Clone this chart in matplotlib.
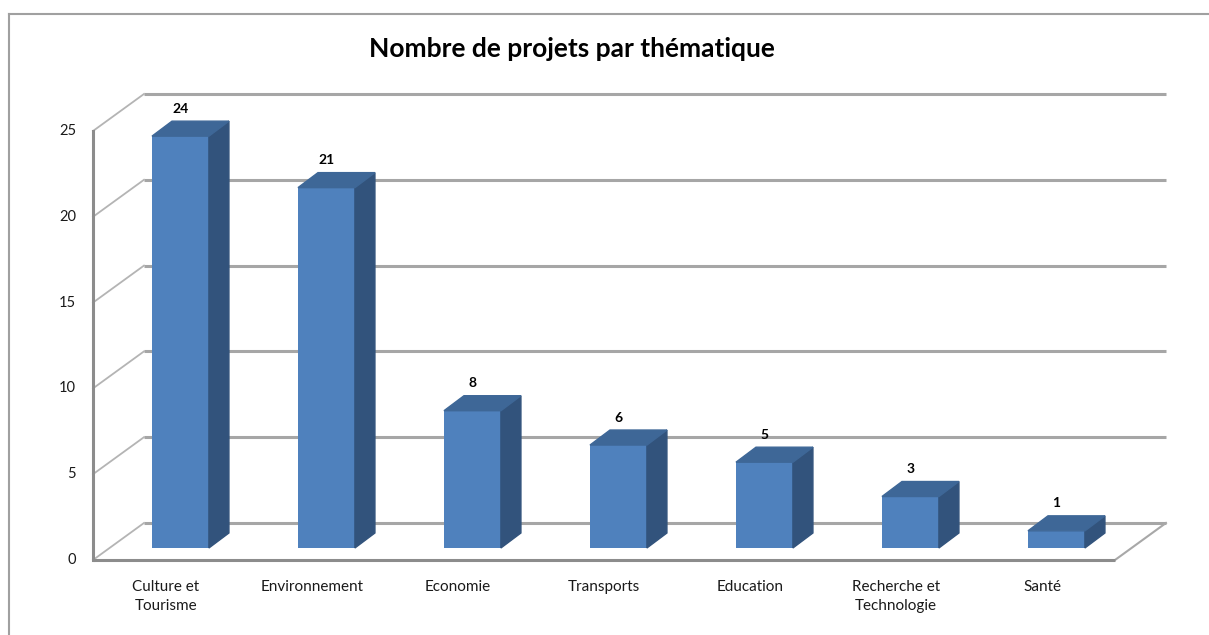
import matplotlib.pyplot as plt
from matplotlib.patches import Polygon
from matplotlib.lines import Line2D

plt.rcParams['font.family'] = ['Lato', 'DejaVu Sans']

# data
categories = ['Culture et\nTourisme', 'Environnement', 'Economie', 'Transports',
              'Education', 'Recherche et\nTechnologie', 'Santé']
values = [24, 21, 8, 6, 5, 3, 1]
yticks = [0, 5, 10, 15, 20, 25]

W, H = 1209, 635
fig = plt.figure(figsize=(W / 100, H / 100), dpi=100)
# plot area = front plane of the 3D box
ax = fig.add_axes([93 / W, 75 / H, 1022 / W, 429 / H])
ax.set_xlim(-0.5, len(values) - 0.5)
ax.set_ylim(0, 25)
ax.axis('off')

# oblique projection of the depth axis (in data units)
DX, DY = 0.349, 2.156
# bar placement inside the depth
BX0, BY0 = 0.099, 0.70      # front face offset
BDX, BDY = 0.137, 0.874     # bar depth
BW = 0.39

front_c = '#4f81bd'
top_c = '#3e6797'
side_c = '#32537c'
grid_c = '#a6a6a6'

x0, x1 = -0.5, len(values) - 0.5

# back wall gridlines and left wall diagonals
for v in yticks:
    ax.add_line(Line2D([x0 + DX, x1 + DX], [v + DY, v + DY], color=grid_c, lw=2.2,
                       solid_capstyle='butt', clip_on=False, zorder=1))
    ax.add_line(Line2D([x0, x0 + DX], [v, v + DY], color='#b4b4b4', lw=1.3,
                       clip_on=False, zorder=1))
    ax.text(x0 - 0.115, v, str(v), ha='right', va='center', fontsize=10.5,
            color='#1a1a1a')

# floor right edge, front edge and value axis
ax.add_line(Line2D([x1, x1 + DX], [0, DY], color='#a8a8a8', lw=1.5, clip_on=False, zorder=1))
ax.add_line(Line2D([x0, x1], [0, 0], color='#8c8c8c', lw=2.2, solid_capstyle='butt',
                   clip_on=False, zorder=2))
ax.add_line(Line2D([x0, x0], [0, 25], color='#8c8c8c', lw=2.2, clip_on=False, zorder=2))

# bars
xs = [i + BX0 for i in range(len(values))]
ax.bar(xs, values, width=BW, bottom=BY0, color=front_c, clip_on=False, zorder=3)
for x, v in zip(xs, values):
    l, r = x - BW / 2, x + BW / 2
    top = v + BY0
    ax.add_patch(Polygon([(r, BY0), (r + BDX, BY0 + BDY), (r + BDX, top + BDY), (r, top)],
                         closed=True, color=side_c, clip_on=False, zorder=3))
    ax.add_patch(Polygon([(l, top), (r, top), (r + BDX, top + BDY), (l + BDX, top + BDY)],
                         closed=True, color=top_c, clip_on=False, zorder=3))
    ax.text(x, top + BDY + 0.72, str(v), ha='center', va='center', fontsize=10,
            fontweight='bold', color='black')

# category labels
for i, c in enumerate(categories):
    ax.text(i, -1.15, c, ha='center', va='top', fontsize=11, color='#1a1a1a',
            linespacing=1.5)

fig.text(572 / W, 1 - 49 / H, 'Nombre de projets par thématique', ha='center',
         va='center', fontsize=19, fontweight='bold')

# chart border
fig.add_artist(Line2D([9 / W, 1], [1 - 14 / H, 1 - 14 / H], color='#a0a0a0', lw=1.5,
                      transform=fig.transFigure))
fig.add_artist(Line2D([9 / W, 9 / W], [0, 1 - 14 / H], color='#a0a0a0', lw=1.5,
                      transform=fig.transFigure))

fig.savefig('out.png', dpi=100)
